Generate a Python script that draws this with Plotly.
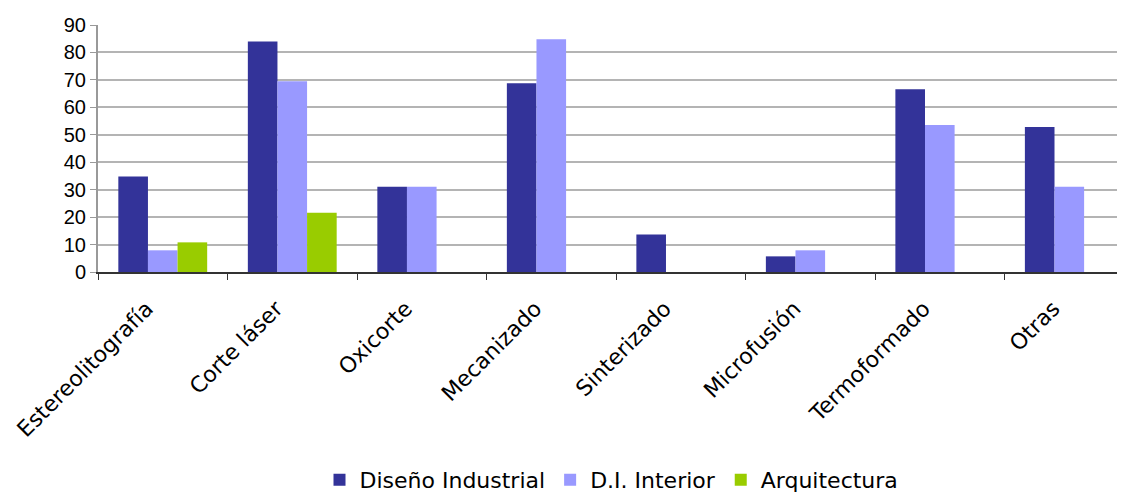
import plotly.graph_objects as go

categories = ["Estereolitografía", "Corte láser", "Oxicorte", "Mecanizado",
              "Sinterizado", "Microfusión", "Termoformado", "Otras"]
diseno_industrial = [34.8, 84.0, 31.1, 68.8, 13.7, 5.7, 66.6, 52.8]
di_interior = [7.9, 69.5, 31.1, 84.8, None, 7.9, 53.6, 31.1]
arquitectura = [10.8, 21.6, None, None, None, None, None, None]

series = [
    ("Diseño Industrial", diseno_industrial, "#333399"),
    ("D.I. Interior", di_interior, "#9999FF"),
    ("Arquitectura", arquitectura, "#99CC00"),
]

fig = go.Figure()
for name, vals, color in series:
    fig.add_trace(go.Bar(x=categories, y=vals, name=name,
                         marker=dict(color=color, line=dict(width=0))))

# page body adds an 8px margin, so the figure is a bit smaller than the window
fig.update_layout(
    width=1117, height=487,
    barmode="group", bargap=0.314, bargroupgap=0,
    plot_bgcolor="white", paper_bgcolor="white",
    margin=dict(l=90, r=0, t=17, b=223, autoexpand=False),
    legend=dict(orientation="h", x=0.5, xanchor="center",
                y=-0.842, yanchor="middle",
                font=dict(family="DejaVu Sans", size=22, color="black"),
                itemwidth=30, tracegroupgap=0),
)
fig.update_xaxes(
    range=[-0.5, 7.43], tickson="boundaries", ticks="outside", ticklen=6,
    tickcolor="#333333", showline=True, linecolor="#333333", linewidth=2,
    tickangle=-45, automargin=False, ticklabelstandoff=13, ticklabelshift=-16,
    tickfont=dict(family="DejaVu Sans", size=22, color="black"),
)
fig.update_yaxes(
    range=[0, 90], dtick=10, ticks="outside", ticklen=6, tickcolor="#999999",
    showline=True, linecolor="#999999", linewidth=2, automargin=False,
    showgrid=True, gridcolor="#B4B4B4", gridwidth=2, zeroline=False,
    tickfont=dict(family="Liberation Sans", size=20, color="black"),
)

fig.write_html("out.html")
